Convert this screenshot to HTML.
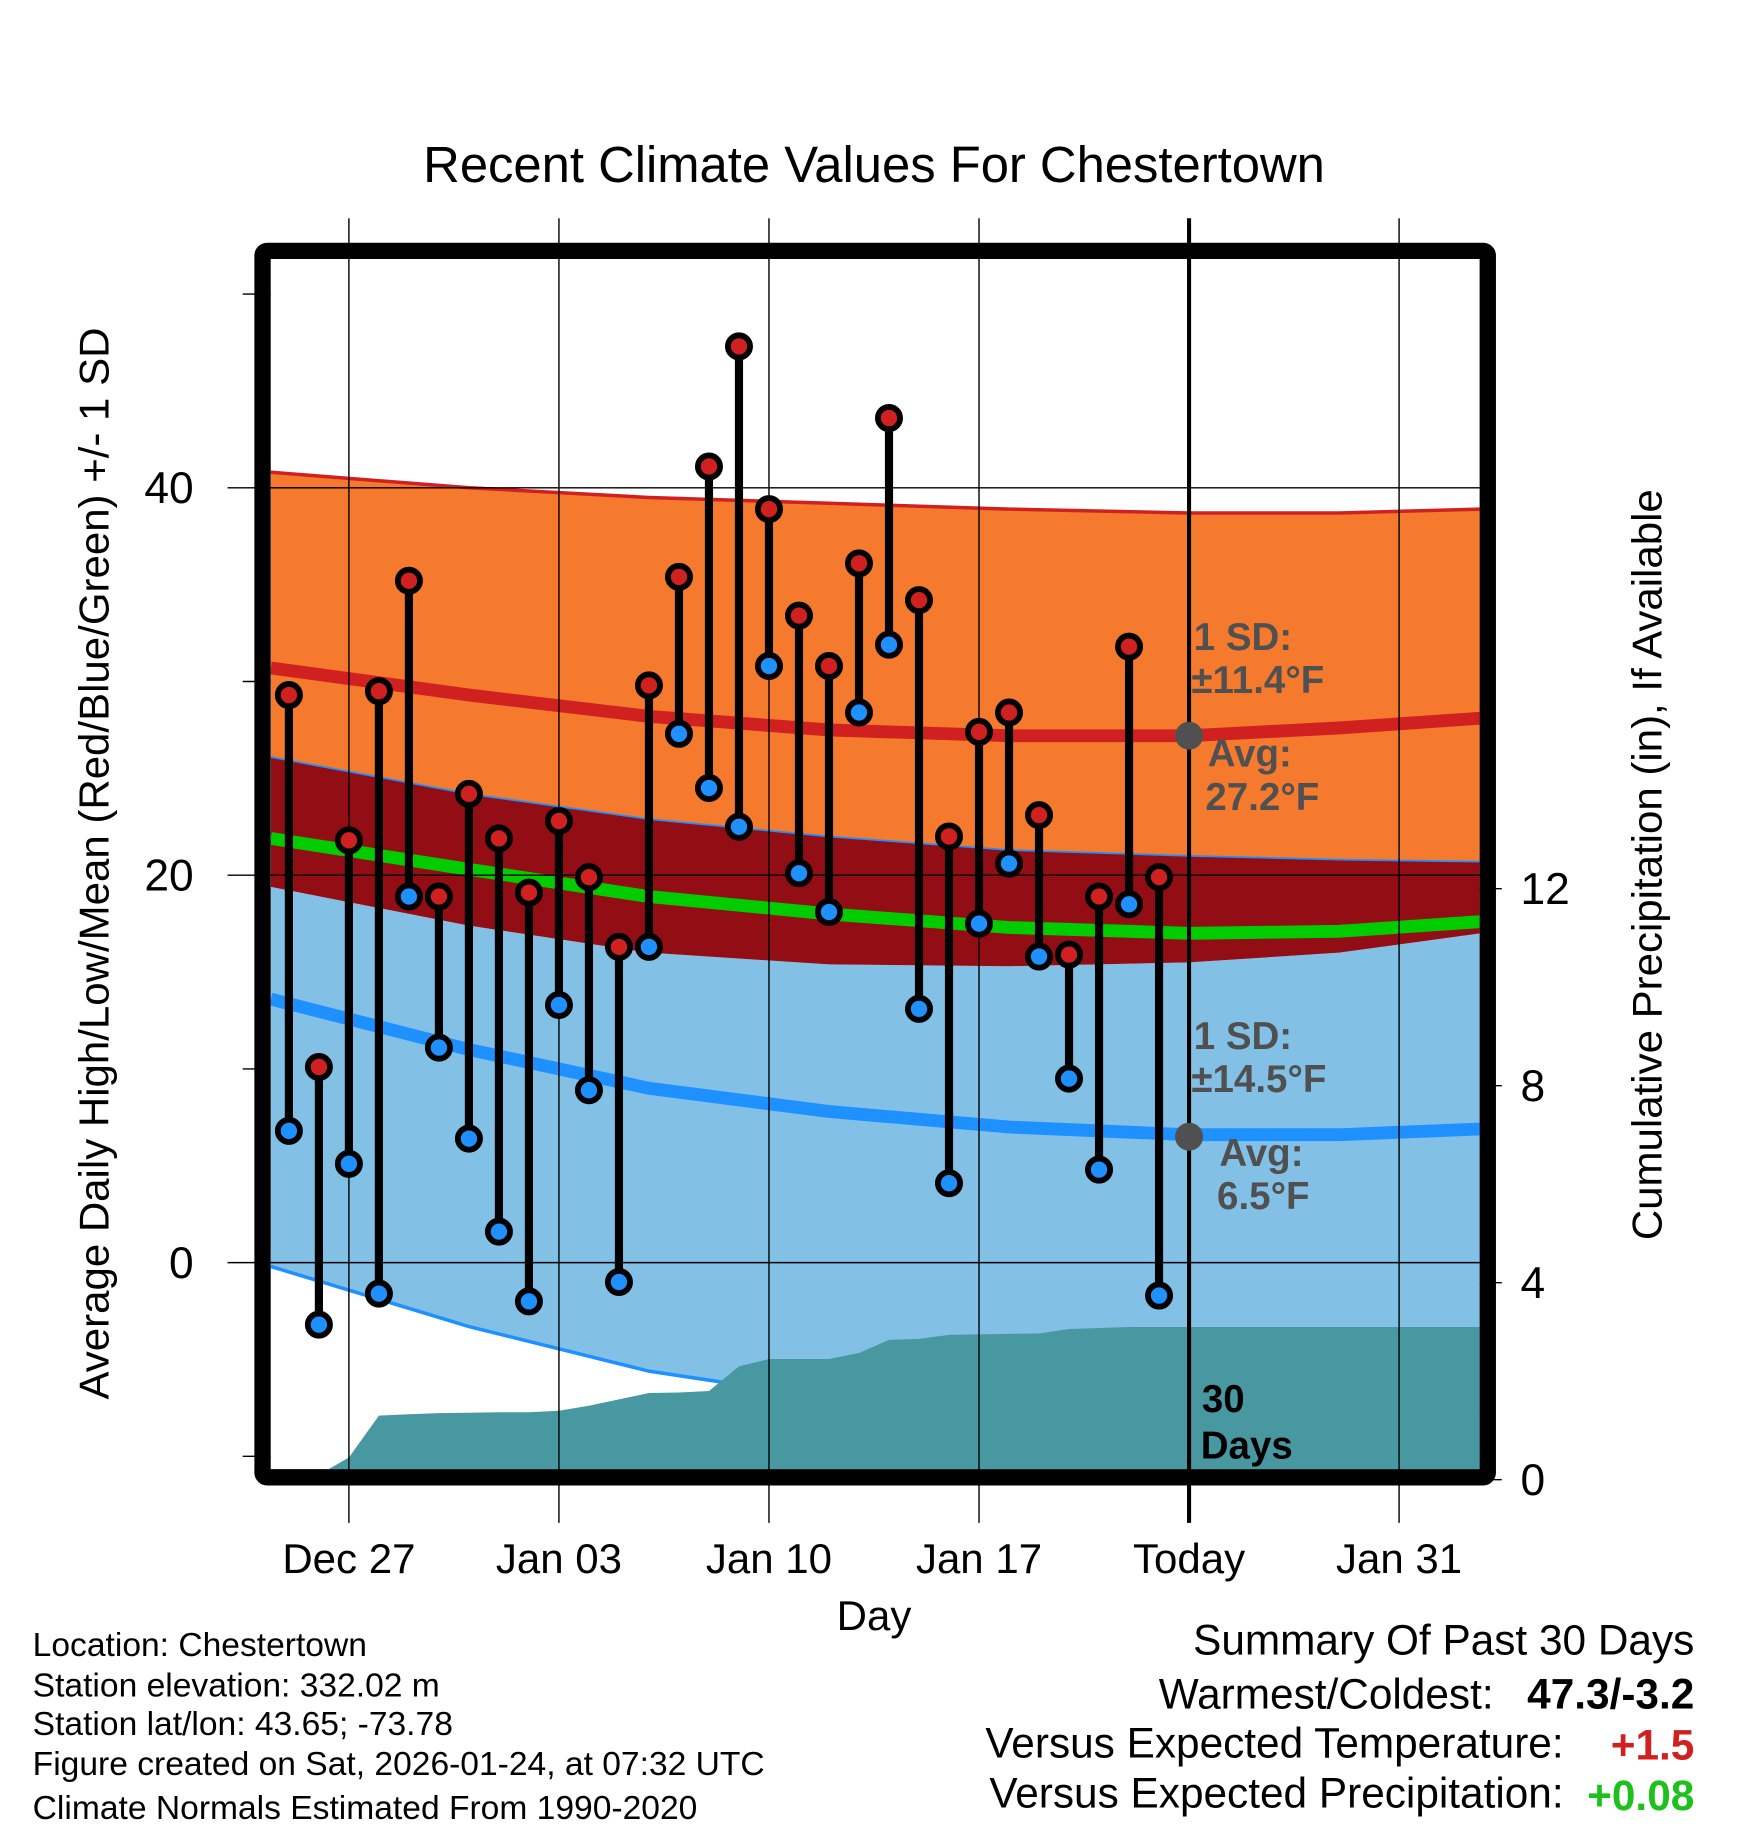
<!DOCTYPE html>
<html><head><meta charset="utf-8"><style>
html,body{margin:0;padding:0;background:#fff;}
svg{display:block;font-family:"Liberation Sans",Arial,sans-serif;}
</style></head><body>
<svg id="chart" width="1748" height="1828" viewBox="0 0 1498 1566.5" preserveAspectRatio="none" xmlns="http://www.w3.org/2000/svg">
<defs><clipPath id="plotclip"><rect x="232" y="222" width="1036" height="1037"/></clipPath></defs>
<rect width="1498" height="1567" fill="#fff"/>
<text x="749" y="156" font-size="43.5" text-anchor="middle">Recent Climate Values For Chestertown</text>
<g id="bands" clip-path="url(#plotclip)"></g>
<g id="grid"></g>
<g id="series"></g>
<g id="axes"></g>
<text transform="translate(93,740) rotate(-90)" font-size="36" text-anchor="middle">Average Daily High/Low/Mean (Red/Blue/Green) +/- 1 SD</text>
<text transform="translate(1424,741) rotate(-90)" font-size="36" text-anchor="middle">Cumulative Precipitation (in), If Available</text>
<text x="749" y="1397" font-size="36" text-anchor="middle">Day</text>
<g font-size="28.8">
<text x="28" y="1419">Location: Chestertown</text>
<text x="28" y="1454">Station elevation: 332.02 m</text>
<text x="28" y="1487">Station lat/lon: 43.65; -73.78</text>
<text x="28" y="1521">Figure created on Sat, 2026-01-24, at 07:32 UTC</text>
<text x="28" y="1559">Climate Normals Estimated From 1990-2020</text>
</g>
<g font-size="36.3" text-anchor="end">
<text x="1452" y="1418">Summary Of Past 30 Days</text>
<text x="1280" y="1464">Warmest/Coldest:</text>
<text x="1452" y="1464" font-weight="bold">47.3/-3.2</text>
<text x="1340" y="1506">Versus Expected Temperature:</text>
<text x="1452" y="1508" font-weight="bold" fill="#d02020">+1.5</text>
<text x="1340" y="1549">Versus Expected Precipitation:</text>
<text x="1452" y="1551" font-weight="bold" fill="#1ec01e">+0.08</text>
</g>
</svg>
<script>
// ---- data ----
const days = ["Dec 25","Dec 26","Dec 27","Dec 28","Dec 29","Dec 30","Dec 31","Jan 01","Jan 02","Jan 03","Jan 04","Jan 05","Jan 06","Jan 07","Jan 08","Jan 09","Jan 10","Jan 11","Jan 12","Jan 13","Jan 14","Jan 15","Jan 16","Jan 17","Jan 18","Jan 19","Jan 20","Jan 21","Jan 22","Jan 23"];
const highs = [29.3,10.1,21.8,29.5,35.2,18.9,24.2,21.9,19.1,22.8,19.9,16.3,29.8,35.4,41.1,47.3,38.9,33.4,30.8,36.1,43.6,34.2,22.0,27.4,28.4,23.1,15.9,18.9,31.8,19.9];
const lows  = [6.8,-3.2,5.1,-1.6,18.9,11.1,6.4,1.6,-2.0,13.3,8.9,-1.0,16.3,27.3,24.5,22.5,30.8,20.1,18.1,28.4,31.9,13.1,4.1,17.5,20.6,15.8,9.5,4.8,18.5,-1.7];
const precip = [0,0,0.1,0.45,1.3,1.33,1.35,1.36,1.37,1.37,1.4,1.5,1.63,1.76,1.77,1.8,2.3,2.45,2.45,2.45,2.57,2.84,2.86,2.94,2.95,2.96,2.97,3.06,3.08,3.1,3.1];
const normDays = [-2.6,4,10,16,22,28,33,37.7];
const hiAvg  = [30.7,29.3,28.2,27.5,27.2,27.2,27.6,28.1];
const hiPlus = [40.8,40.0,39.5,39.2,38.9,38.7,38.7,38.9];
const hiMinus= [26.1,24.2,22.9,22.0,21.3,21.0,20.8,20.7];
const meanAvg= [21.9,20.3,18.9,18.0,17.3,17.0,17.1,17.6];
const loPlus = [19.4,17.4,16.0,15.4,15.3,15.5,16.0,17.0];
const loAvg  = [13.6,11.0,9.0,7.8,7.0,6.6,6.6,6.9];
const loMinus= [-0.2,-3.3,-5.6,-7.0,-7.8,-8.0,-8.0,-7.6];
const xTickLabels = ["Dec 27","Jan 03","Jan 10","Jan 17","Today","Jan 31"];
const yTicks = [0,20,40];
const yMinor = [-10,10,30,50];
const y2Ticks = [0,4,8,12];

// ---- scales ----
const X = d => 299 + 25.714*d;
const Y = v => 1082 - 16.6*v;
const Y2 = v => 1268 - 42.2*v;
const NS = "http://www.w3.org/2000/svg";
function mk(tag, attrs, parent){const e=document.createElementNS(NS,tag);for(const k in attrs)e.setAttribute(k,attrs[k]);parent.appendChild(e);return e;}
const bands=document.getElementById('bands'),grid=document.getElementById('grid'),series=document.getElementById('series'),axes=document.getElementById('axes');
const pts = arr => arr.map((v,i)=>X(normDays[i]).toFixed(1)+','+Y(v).toFixed(1));
const band = (top,bot) => pts(top).concat(pts(bot).reverse()).join(' ');

let e;
e=mk('polygon',{points:band(loPlus,loMinus),fill:'#82c0e6'},bands);


e=mk('polygon',{points:band(hiPlus,hiMinus),fill:'#f57a2e'},bands);


e=mk('polygon',{points:band(hiMinus,loPlus),fill:'#920d14'},bands);


e=mk('polyline',{points:pts(hiPlus).join(' '),fill:'none',stroke:'#d02020','stroke-width':3},bands);


e=mk('polyline',{points:pts(hiMinus).join(' '),fill:'none',stroke:'#1e90ff','stroke-width':1.5},bands);


e=mk('polyline',{points:pts(loMinus).join(' '),fill:'none',stroke:'#1e90ff','stroke-width':3},bands);


e=mk('polyline',{points:pts(hiAvg).join(' '),fill:'none',stroke:'#d02020','stroke-width':11},bands);


e=mk('polyline',{points:pts(meanAvg).join(' '),fill:'none',stroke:'#00cc00','stroke-width':11},bands);


e=mk('polyline',{points:pts(loAvg).join(' '),fill:'none',stroke:'#1e90ff','stroke-width':11},bands);


let pp=[X(-2.6)+','+Y2(0)];
precip.forEach((v,i)=>pp.push(X(i-3).toFixed(1)+','+Y2(v).toFixed(1)));
pp.push(X(37.7)+','+Y2(precip[precip.length-1]));
pp.push(X(37.7)+','+Y2(0));
e=mk('polygon',{points:pp.join(' '),fill:'#4898a2'},bands);



xTickLabels.forEach((lab,i)=>{
  const x=X(i*7);
  e=mk('line',{x1:x,x2:x,y1:187,y2:1305,stroke:'#000','stroke-width':i==4?3.5:1.2},grid);
  
  
  e=mk('text',{x:x,y:1348,'font-size':36,'text-anchor':'middle'},axes);
  e.textContent=lab;
  
  
});
yTicks.forEach(v=>{
  e=mk('line',{x1:195,x2:1268,y1:Y(v),y2:Y(v),stroke:'#000','stroke-width':1.2},grid);
  
  
  e=mk('text',{x:166,y:Y(v)+13,'font-size':38,'text-anchor':'end'},axes);
  e.textContent=v;
  
  
});
yMinor.forEach(v=>{
  e=mk('line',{x1:208,x2:232,y1:Y(v),y2:Y(v),stroke:'#000','stroke-width':1.2},grid);
  
  
});
y2Ticks.forEach(v=>{
  e=mk('line',{x1:1268,x2:1287,y1:Y2(v),y2:Y2(v),stroke:'#000','stroke-width':1.2},grid);
  
  
  e=mk('text',{x:1303,y:Y2(v)+13,'font-size':38},axes);
  e.textContent=v;
  
  
});

e=mk('rect',{x:225,y:215,width:1050,height:1051,fill:'none',stroke:'#000','stroke-width':14,rx:4},axes);



const tx=X(28);
e=mk('circle',{cx:tx,cy:Y(27.2),r:12,fill:'#505050'},series);


e=mk('circle',{cx:tx,cy:Y(6.5),r:12,fill:'#505050'},series);


const ann=[["1 SD:",1023,557],["\u00b111.4\u00b0F",1021,594],["Avg:",1035,657],["27.2\u00b0F",1033,694],["1 SD:",1023,899],["\u00b114.5\u00b0F",1021,936],["Avg:",1045,999],["6.5\u00b0F",1043,1036]];
ann.forEach(a=>{
  e=mk('text',{x:a[1],y:a[2],'font-size':33,'font-weight':'bold',fill:'#505050'},series);
  e.textContent=a[0];
  
  
});
e=mk('text',{x:1030,y:1210,'font-size':33,'font-weight':'bold'},series);
e.textContent='30';


e=mk('text',{x:1029,y:1250,'font-size':33,'font-weight':'bold'},series);
e.textContent='Days';



days.forEach((d,i)=>{
  const x=X(i-2);
  e=mk('line',{x1:x,x2:x,y1:Y(highs[i]),y2:Y(lows[i]),stroke:'#000','stroke-width':7},series);
  
  
  e=mk('circle',{cx:x,cy:Y(highs[i]),r:9.5,fill:'#d02020',stroke:'#000','stroke-width':5},series);
  
  
  e=mk('circle',{cx:x,cy:Y(lows[i]),r:9.5,fill:'#1e90ff',stroke:'#000','stroke-width':5},series);
  
  
});
</script>
</body></html>
